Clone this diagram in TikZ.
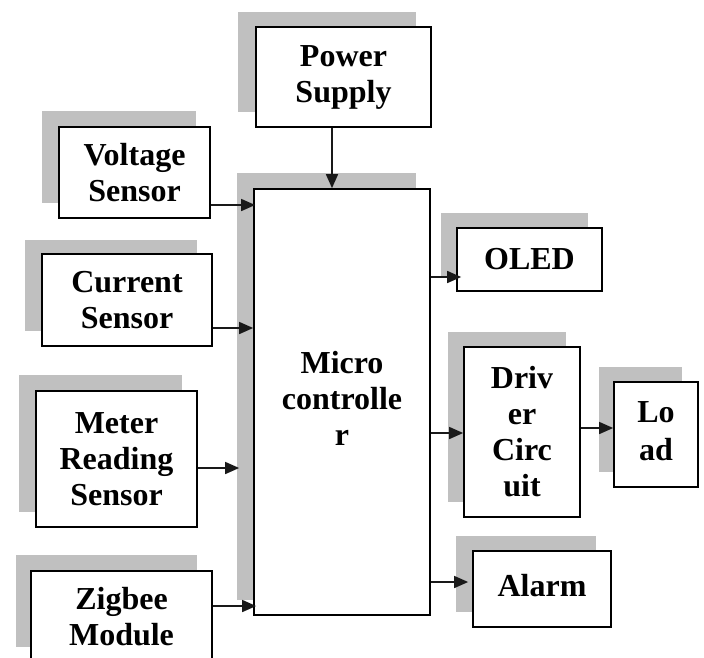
\documentclass[tikz,border=0pt]{standalone}
\usepackage{fontspec}
\setmainfont{Liberation Serif}
\usetikzlibrary{arrows.meta,calc}
\definecolor{shade}{RGB}{192,192,192}
\definecolor{ink}{RGB}{25,25,25}
\begin{document}
\begin{tikzpicture}[x=1pt,y=-1pt,
  box/.style={draw=black,fill=white,line width=1.7pt,align=center,inner sep=0pt,
    font=\bfseries\fontsize{32}{36}\selectfont},
  arr/.style={draw=ink,line width=1.6pt,-{Triangle[length=14pt,width=12pt]}},
  shadowrect/.style={fill=shade}]
\useasboundingbox (0,0) rectangle (704,657);
\clip (0,0) rectangle (704,657);
% shadows
\fill[shadowrect] (238,12) rectangle (416,112);
\fill[shadowrect] (237,173) rectangle (416,600);
\fill[shadowrect] (42,111) rectangle (196,203);
\fill[shadowrect] (25,240) rectangle (197,331);
\fill[shadowrect] (19,375) rectangle (182,512);
\fill[shadowrect] (16,555) rectangle (197,647);
\fill[shadowrect] (441,213) rectangle (588,276);
\fill[shadowrect] (448,332) rectangle (566,502);
\fill[shadowrect] (599,367) rectangle (682,472);
\fill[shadowrect] (456,536) rectangle (596,612);
% boxes
\node[box,minimum width=175pt,minimum height=100pt] (ps) at (343.5,77) {Power\\Supply};
\node[box,minimum width=176pt,minimum height=426pt] (mc) at (342,402) {\raisebox{3pt}{\begin{tabular}{@{}c@{}}Micro\\controlle\\r\end{tabular}}};
\node[box,minimum width=151pt,minimum height=91pt] (volt) at (134.5,172.5) {Voltage\\Sensor};
\node[box,minimum width=170pt,minimum height=92pt] (cur) at (127,300) {Current\\Sensor};
\node[box,minimum width=161pt,minimum height=136pt] (meter) at (116.5,459) {Meter\\Reading\\Sensor};
\node[box,minimum width=181pt,minimum height=92pt] (zig) at (121.5,617) {Zigbee\\Module};
\node[box,minimum width=145pt,minimum height=63pt] (oled) at (529.5,259.5) {OLED};
\node[box,minimum width=116pt,minimum height=170pt] (drv) at (522,432) {Driv\\er\\Circ\\uit};
\node[box,minimum width=84pt,minimum height=105pt] (load) at (656,434.5) {\raisebox{4pt}{\begin{tabular}{@{}c@{}}Lo\\[2pt]ad\end{tabular}}};
\node[box,minimum width=138pt,minimum height=76pt] (alarm) at (542,589) {\raisebox{7pt}{Alarm}};
% connectors
\draw[arr] (ps.south -| 332,0) -- (mc.north -| 332,0);
\draw[arr] (volt.east |- 0,205) -- ($(mc.west |- 0,205)+(2,0)$);
\draw[arr] (cur.east |- 0,328) -- (mc.west |- 0,328);
\draw[arr] (meter.east |- 0,468) -- ($(mc.west |- 0,468)+(-14,0)$);
\draw[arr] (zig.east |- 0,606) -- ($(mc.west |- 0,606)+(3,0)$);
\draw[arr] (mc.east |- 0,277) -- ($(oled.west |- 0,277)+(5,0)$);
\draw[arr] (mc.east |- 0,433) -- (drv.west |- 0,433);
\draw[arr] (drv.east |- 0,428) -- (load.west |- 0,428);
\draw[arr] (mc.east |- 0,582) -- ($(alarm.west |- 0,582)+(-4,0)$);
\end{tikzpicture}
\end{document}
